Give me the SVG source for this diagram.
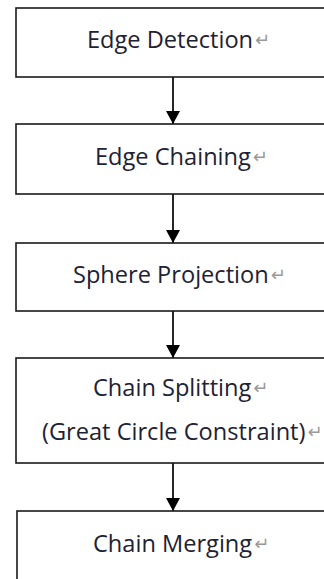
<svg xmlns="http://www.w3.org/2000/svg" width="324" height="579" viewBox="0 0 324 579">
<defs>
<marker id="ah" viewBox="0 0 13 14" refX="13" refY="7" markerWidth="13" markerHeight="14" markerUnits="userSpaceOnUse" orient="auto">
<path d="M0,0 L13,7 L0,14 Z" fill="#000"/>
</marker>
</defs>
<style>
.box{fill:#fff;stroke:#1a1a1a;stroke-width:1.6}
.lbl{font-family:"Open Sans","Liberation Sans",sans-serif;font-size:23.6px;fill:#1e2233}
.rm{font-family:"DejaVu Sans",sans-serif;font-size:18px;fill:#999}
.con{stroke:#000;stroke-width:1.7;fill:none}
</style>
<rect width="324" height="579" fill="#fff"/>
<g id="connectors">
<line class="con" x1="173" y1="77" x2="173" y2="124" marker-end="url(#ah)"/>
<line class="con" x1="173" y1="194" x2="173" y2="243" marker-end="url(#ah)"/>
<line class="con" x1="173" y1="311" x2="173" y2="358" marker-end="url(#ah)"/>
<line class="con" x1="173" y1="463" x2="173" y2="511" marker-end="url(#ah)"/>
</g>
<g id="edge-detection">
<rect class="box" x="16" y="8" width="320" height="69"/>
<text class="lbl" x="87" y="48">Edge Detection<tspan class="rm" dx="2" dy="-2">↵</tspan></text>
</g>
<g id="edge-chaining">
<rect class="box" x="16" y="124" width="320" height="70"/>
<text class="lbl" x="95" y="165">Edge Chaining<tspan class="rm" dx="2" dy="-2">↵</tspan></text>
</g>
<g id="sphere-projection">
<rect class="box" x="16" y="243" width="320" height="68"/>
<text class="lbl" x="73" y="283">Sphere Projection<tspan class="rm" dx="2" dy="-2">↵</tspan></text>
</g>
<g id="chain-splitting">
<rect class="box" x="16" y="358" width="320" height="105"/>
<text class="lbl" x="93" y="396">Chain Splitting<tspan class="rm" dx="2" dy="-2">↵</tspan></text>
<text class="lbl" x="42" y="440">(Great Circle Constraint)<tspan class="rm" dx="2" dy="-2">↵</tspan></text>
</g>
<g id="chain-merging">
<rect class="box" x="17" y="511" width="320" height="100"/>
<text class="lbl" x="93" y="552">Chain Merging<tspan class="rm" dx="2" dy="-2">↵</tspan></text>
</g>
</svg>
